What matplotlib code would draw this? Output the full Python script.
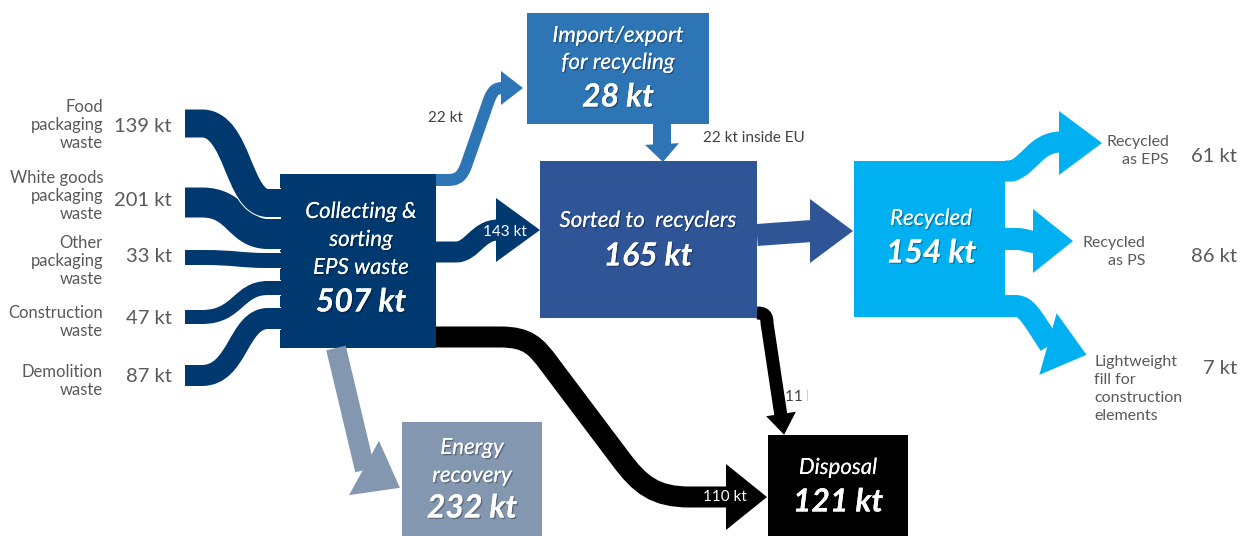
import matplotlib
matplotlib.use("Agg")
import matplotlib.pyplot as plt
import matplotlib.patheffects as pe
from matplotlib.patches import PathPatch, Polygon, Rectangle
from matplotlib.path import Path
import numpy as np

plt.rcParams["font.family"] = ["Lato", "DejaVu Sans"]

# ---- data ---------------------------------------------------------------
source_names = ["Food\npackaging\nwaste", "White goods\npackaging\nwaste",
                "Other\npackaging\nwaste", "Construction\nwaste",
                "Demolition\nwaste"]
source_kt = [139, 201, 33, 47, 87]

node_names = ["Collecting &\nsorting\nEPS waste", "Import/export\nfor recycling",
              "Sorted to  recyclers", "Recycled", "Energy\nrecovery", "Disposal"]
node_kt = [507, 28, 165, 154, 232, 121]

product_names = ["Recycled\nas EPS", "Recycled\nas PS",
                 "Lightweight\nfill for\nconstruction\nelements"]
product_kt = [61, 86, 7]

# export, to sorting, inside EU, direct disposal, disposal after sorting
flow_kt = [22, 143, 22, 110, 11]
flow_suffix = ["", "", " inside EU", "", ""]

# ---- layout (pixel space, y down) ----------------------------------------
W, H, DPI = 1241, 536, 100
PT = 72 / DPI  # px -> points

NAVY = "#00396F"
MID = "#2E75B6"
SORT = "#2F5597"
CYAN = "#00B0F0"
GREYBLUE = "#8497B0"
BLACK = "#000000"
TXT = "#595959"

node_boxes = [(280, 174, 436, 348), (527, 13, 709, 124), (540, 161, 757, 318),
              (854, 161, 1005, 317), (402, 422, 542, 545), (768, 435, 908, 545)]
node_colors = [NAVY, MID, SORT, CYAN, GREYBLUE, BLACK]
# (center x, first line y, line pitch, value y)
node_text_pos = [(361, 212, 28, 302), (618, 36, 27, 97), (648, 221, 0, 256),
                 (931, 219, 0, 253), (472, 448, 28, 508), (838, 468, 0, 502)]

src_left_y = [123.5, 202.5, 257.5, 317, 375.5]
src_right_y = [203, 234, 260.5, 288, 318.5]
src_width = [28, 30, 15, 14, 21]
src_label_y = [107, 178, 243, 313, 372]
src_value_y = [127, 201, 257, 319, 377]

prod_label = [(1169, 142, "right"), (1145, 243, "right"), (1094, 362, "left")]
prod_value_y = [156, 257, 368]


def centerline(start, *segs):
    verts, codes = [start], [Path.MOVETO]
    for s in segs:
        if isinstance(s[0], tuple):
            verts += list(s)
            codes += [Path.CURVE4] * 3
        else:
            verts.append(s)
            codes.append(Path.LINETO)
    return Path(verts, codes)


def band(ax, path, width, color, outline=False, z=2):
    if outline:
        ax.add_patch(PathPatch(path, fill=False, ec="white", lw=(width + 2) * PT,
                               capstyle="butt", joinstyle="round", zorder=z))
    ax.add_patch(PathPatch(path, fill=False, ec=color, lw=width * PT,
                           capstyle="butt", joinstyle="round", zorder=z))


def head(ax, base, direction, half, length, color, z=3):
    u = np.array(direction, float)
    u /= np.hypot(*u)
    n = np.array([-u[1], u[0]])
    b = np.array(base, float)
    pts = [b + n * half, b + u * length, b - n * half]
    ax.add_patch(Polygon(pts, closed=True, fc=color, ec="none", zorder=z))


def shadowed(ax, x, y, s, **kw):
    t = ax.text(x, y, s, color="white", ha="center", va="center", zorder=6, **kw)
    t.set_path_effects([pe.withSimplePatchShadow(offset=(1, -1), shadow_rgbFace="black",
                                                 alpha=0.3), pe.Normal()])
    return t


fig = plt.figure(figsize=(W / DPI, H / DPI), dpi=DPI)
ax = fig.add_axes([0, 0, 1, 1])
ax.set_xlim(0, W)
ax.set_ylim(H, 0)
ax.axis("off")

# ---- boxes --------------------------------------------------------------
for (x0, y0, x1, y1), c in zip(node_boxes, node_colors):
    ax.add_patch(Rectangle((x0, y0), x1 - x0, y1 - y0, fc=c, ec="none", zorder=1))

# ---- input flows ----------------------------------------------------------
for i in reversed(range(len(source_kt))):
    yl, yr = src_left_y[i], src_right_y[i]
    p = centerline((185, yl), (202, yl), ((238, yl), (238, yr), (268, yr)), (281, yr))
    band(ax, p, src_width[i], NAVY, outline=True)

# ---- internal flows -------------------------------------------------------
# to import/export
band(ax, centerline((436, 180), (448, 180), ((458, 180), (462, 176), (466, 166)),
                    (489, 100), ((493, 90), (496, 88), (503, 88))), 12, MID)
head(ax, (501, 88), (1, 0), 17, 22, MID)
# to sorting
band(ax, centerline((436, 252), (456, 252), ((472, 252), (478, 230), (498, 230))), 21, NAVY)
head(ax, (496, 230), (1, 0), 32, 44, NAVY)
# import -> sorted
band(ax, centerline((662, 124), (662, 146)), 18, MID)
head(ax, (662, 144), (0.05, 1), 17, 18, MID)
# sorted -> recycled
band(ax, centerline((757, 235), (812, 231)), 22, SORT)
head(ax, (810, 231), (1, 0), 32, 43, SORT)
# recycled -> EPS
band(ax, centerline((1005, 171), (1012, 171), ((1030, 165), (1036, 142), (1061, 142))), 21, CYAN)
head(ax, (1059, 143), (1, 0), 32, 43, CYAN)
# recycled -> PS
band(ax, centerline((1005, 239), (1016, 239), ((1026, 239), (1028, 242), (1035, 242))), 22, CYAN)
head(ax, (1033, 241), (1, 0), 32, 40, CYAN)
# recycled -> lightweight fill
band(ax, centerline((1005, 306), (1015, 306), ((1026, 306), (1030, 314), (1050, 345))), 22, CYAN)
head(ax, (1048, 344), (0.96, 0.27), 32, 40, CYAN)
# energy recovery
band(ax, centerline((336, 348), (365, 470)), 20, GREYBLUE)
head(ax, (364, 468), (0.87, 0.48), 31, 41, GREYBLUE)
# direct disposal
band(ax, centerline((436, 337), (500, 337), ((528, 337), (536, 346), (550, 365)), (620, 458),
                    ((640, 485), (655, 497), (690, 497)), (728, 497)), 21, BLACK)
head(ax, (726, 497), (1, 0), 33, 41, BLACK)
# sorted -> disposal
band(ax, centerline((757, 313), ((765, 313), (767, 316), (767, 323)), (781, 416)), 13, BLACK)
head(ax, (781, 414), (0.15, 1), 15, 21, BLACK)

# ---- flow labels ----------------------------------------------------------
lbl = [f"{v} kt{s}" for v, s in zip(flow_kt, flow_suffix)]
ax.text(445, 118, lbl[0], fontsize=11, color="#404040", ha="center", va="center", zorder=7)
ax.text(505, 232, lbl[1], fontsize=11, color="white", ha="center", va="center", zorder=7)
ax.text(703, 138, lbl[2], fontsize=11, color="#404040", ha="left", va="center", zorder=7)
ax.text(725, 497, lbl[3], fontsize=11, color="white", ha="center", va="center", zorder=7)
# the 11 kt label is cut off in the original, keep it that way
t = ax.text(785, 397, lbl[4], fontsize=11, color="#404040", ha="left", va="center", zorder=7)
t.set_clip_path(Rectangle((700, 380), 108, 30, transform=ax.transData))
t.set_clip_on(True)

# ---- node labels ----------------------------------------------------------
for name, kt, (cx, y0, pitch, vy) in zip(node_names, node_kt, node_text_pos):
    for k, line in enumerate(name.split("\n")):
        shadowed(ax, cx, y0 + k * pitch, line, fontsize=16, style="italic")
    shadowed(ax, cx, vy, f"{kt} kt", fontsize=23, style="italic", weight="bold")

# ---- source labels --------------------------------------------------------
for name, kt, ly, vy in zip(source_names, source_kt, src_label_y, src_value_y):
    for k, line in enumerate(name.split("\n")):
        ax.text(103, ly + k * 18, line, fontsize=12, color=TXT, ha="right", va="center")
    ax.text(172, vy, f"{kt} kt", fontsize=14.5, color=TXT, ha="right", va="center")

# ---- product labels -------------------------------------------------------
for name, kt, (lx, ly, al), vy in zip(product_names, product_kt, prod_label, prod_value_y):
    for k, line in enumerate(name.split("\n")):
        ax.text(lx, ly + k * 18, line, fontsize=11.5, color=TXT, ha=al, va="center")
    ax.text(1237, vy, f"{kt} kt", fontsize=14.5, color=TXT, ha="right", va="center")

fig.savefig("out.png", dpi=DPI)
